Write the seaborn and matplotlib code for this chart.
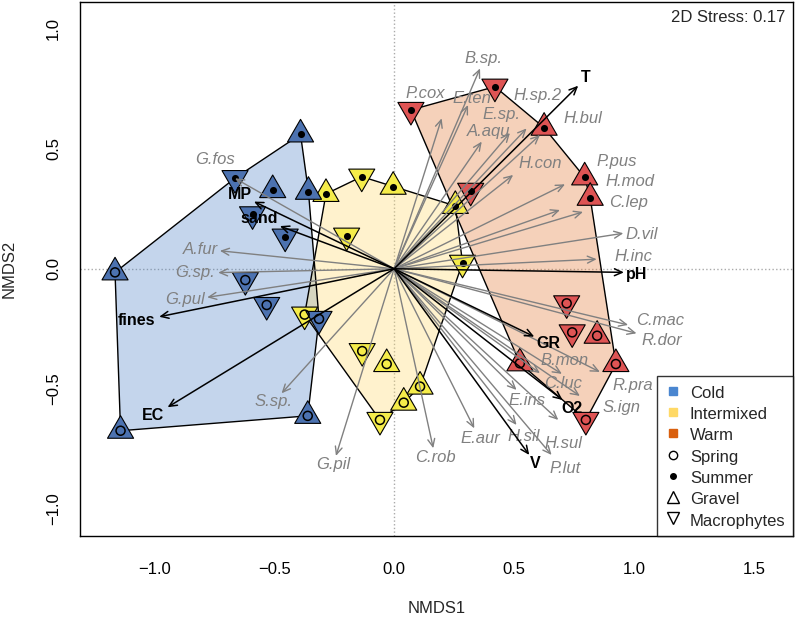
import numpy as np
import pandas as pd
import matplotlib
matplotlib.use("Agg")
import matplotlib.pyplot as plt
from matplotlib.lines import Line2D
import seaborn as sns

# site scores (NMDS1, NMDS2)
site_x = [-0.39, -0.663, -0.506, -0.357, -0.59, -0.454, -1.163, -0.62, -0.531, -0.313, -1.14, -0.36,
          -0.284, -0.135, -0.004, 0.255, -0.198, 0.285, -0.373, -0.133, -0.031, 0.108, 0.04, -0.059,
          0.07, 0.42, 0.625, 0.794, 0.817, 0.319, 0.719, 0.742, 0.846, 0.924, 0.524, 0.799]
site_y = [0.56, 0.378, 0.328, 0.321, 0.227, 0.134, -0.015, -0.047, -0.151, -0.209, -0.675, -0.613,
          0.312, 0.384, 0.342, 0.262, 0.138, 0.025, -0.191, -0.343, -0.397, -0.491, -0.558, -0.63,
          0.662, 0.759, 0.588, 0.381, 0.296, 0.325, -0.144, -0.265, -0.279, -0.397, -0.394, -0.63]
site_group = ["Cold"] * 12 + ["Intermixed"] * 12 + ["Warm"] * 12
site_season = ["Summer", "Summer", "Summer", "Summer", "Summer", "Summer", "Spring", "Spring", "Spring", "Spring", "Spring", "Spring",
               "Summer", "Summer", "Summer", "Summer", "Summer", "Summer", "Spring", "Spring", "Spring", "Spring", "Spring", "Spring",
               "Summer", "Summer", "Summer", "Summer", "Summer", "Summer", "Spring", "Spring", "Spring", "Spring", "Spring", "Spring"]
site_habitat = ["Gravel", "Macrophytes", "Gravel", "Gravel", "Macrophytes", "Macrophytes", "Gravel", "Macrophytes", "Macrophytes", "Macrophytes", "Gravel", "Gravel",
                "Gravel", "Macrophytes", "Gravel", "Gravel", "Macrophytes", "Macrophytes", "Macrophytes", "Macrophytes", "Gravel", "Gravel", "Gravel", "Macrophytes",
                "Macrophytes", "Macrophytes", "Gravel", "Gravel", "Gravel", "Macrophytes", "Macrophytes", "Macrophytes", "Gravel", "Gravel", "Gravel", "Macrophytes"]

# species vectors: arrow tip and label position
spp_names = ["B.sp.", "P.cox", "E.ten", "E.sp.", "A.aqu", "H.sp.2", "H.bul", "H.con", "P.pus", "H.mod",
             "C.lep", "D.vil", "H.inc", "C.mac", "R.dor", "B.mon", "C.luc", "R.pra", "S.ign", "E.ins",
             "H.sil", "H.sul", "P.lut", "E.aur", "C.rob", "G.pil", "S.sp.", "G.fos", "A.fur", "G.sp.", "G.pul"]
spp_x = [0.358, 0.198, 0.308, 0.4825, 0.365, 0.552, 0.6075, 0.496, 0.712, 0.691,
         0.787, 0.955, 0.844, 0.975, 1.01, 0.6075, 0.699, 0.8575, 0.774, 0.51,
         0.51, 0.684, 0.656, 0.334, 0.163, -0.2425, -0.469, -0.663, -0.726, -0.733, -0.779]
spp_y = [0.835, 0.627, 0.6825, 0.566, 0.53, 0.585, 0.5575, 0.391, 0.352, 0.245,
         0.237, 0.148, 0.04, -0.234, -0.269, -0.435, -0.438, -0.43, -0.53, -0.505,
         -0.651, -0.63, -0.776, -0.665, -0.748, -0.78, -0.519, 0.377, 0.075, -0.016, -0.119]
spp_lx = [0.371, 0.128, 0.323, 0.448, 0.392, 0.599, 0.788, 0.6075, 0.927, 0.9825,
          0.975, 1.031, 0.996, 1.1075, 1.115, 0.712, 0.705, 0.996, 0.948, 0.552,
          0.538, 0.705, 0.712, 0.3575, 0.174, -0.254, -0.504, -0.7467, -0.809, -0.83, -0.8717]
spp_ly = [0.877, 0.7325, 0.71, 0.641, 0.571, 0.724, 0.627, 0.44, 0.446, 0.363,
          0.275, 0.144, 0.05, -0.216, -0.30, -0.383, -0.48, -0.488, -0.579, -0.55,
          -0.697, -0.727, -0.831, -0.706, -0.787, -0.815, -0.554, 0.4575, 0.081, -0.016, -0.13]

# environmental vectors
env_names = ["T", "MP", "sand", "fines", "EC", "pH", "GR", "O2", "V"]
env_x = [0.767, -0.584, -0.476, -0.979, -0.944, 0.9575, 0.584, 0.702, 0.563]
env_y = [0.763, 0.28, 0.178, -0.2, -0.577, -0.015, -0.283, -0.547, -0.776]
env_lx = [0.80, -0.643, -0.562, -1.073, -1.004, 1.012, 0.642, 0.74, 0.587]
env_ly = [0.796, 0.308, 0.21, -0.2175, -0.613, -0.022, -0.313, -0.584, -0.81]

groups = ["Cold", "Intermixed", "Warm"]
point_colors = {"Cold": "#4C72B0", "Intermixed": "#F5EC4A", "Warm": "#DE5454"}
hull_colors = {"Cold": "#4A7FC4", "Intermixed": "#FFD966", "Warm": "#E0722A"}
legend_colors = {"Cold": "#4A86D0", "Intermixed": "#FFD966", "Warm": "#D95F0E"}


def hull(px, py):
    pts = sorted(set(zip(px, py)))
    def cross(o, a, b):
        return (a[0] - o[0]) * (b[1] - o[1]) - (a[1] - o[1]) * (b[0] - o[0])
    lower, upper = [], []
    for p in pts:
        while len(lower) >= 2 and cross(lower[-2], lower[-1], p) <= 0:
            lower.pop()
        lower.append(p)
    for p in reversed(pts):
        while len(upper) >= 2 and cross(upper[-2], upper[-1], p) <= 0:
            upper.pop()
        upper.append(p)
    return np.array(lower[:-1] + upper[:-1])


sites = pd.DataFrame({"NMDS1": site_x, "NMDS2": site_y, "group": site_group,
                      "season": site_season, "habitat": site_habitat})

sns.set_style("white")
plt.rcParams["font.family"] = ["Liberation Sans", "DejaVu Sans"]

fig = plt.figure(figsize=(7.96, 6.17), dpi=100)
ax = fig.add_axes([0.1005, 0.1308, 0.8957, 0.866])

ax.axhline(0, color="#AAAAAA", ls=":", lw=1, zorder=0)
ax.axvline(0, color="#AAAAAA", ls=":", lw=1, zorder=0)

for g in groups:
    sub = sites[sites["group"] == g]
    h = hull(sub["NMDS1"], sub["NMDS2"])
    ax.fill(h[:, 0], h[:, 1], color=hull_colors[g], alpha=0.32, lw=0, zorder=1)
    ax.fill(h[:, 0], h[:, 1], facecolor="none", edgecolor="black", lw=1, zorder=2)

order = ["Warm", "Intermixed", "Cold"]
for g in order:
    sub = sites[sites["group"] == g]
    sns.scatterplot(data=sub, x="NMDS1", y="NMDS2", style="habitat",
                    markers={"Gravel": (3, 0, 0), "Macrophytes": (3, 0, 180)},
                    color=point_colors[g], edgecolor="black", linewidth=0.8,
                    s=470, legend=False, ax=ax, zorder=3)
    spr = sub[sub["season"] == "Spring"]
    ax.scatter(spr["NMDS1"], spr["NMDS2"], s=42, facecolor="none", edgecolor="black", lw=1.1, zorder=4)
    smr = sub[sub["season"] == "Summer"]
    ax.scatter(smr["NMDS1"], smr["NMDS2"], s=26, color="black", lw=0, zorder=4)

for name, x, y, lx, ly in zip(spp_names, spp_x, spp_y, spp_lx, spp_ly):
    ax.annotate("", xy=(x, y), xytext=(0, 0),
                arrowprops=dict(arrowstyle="->,head_length=0.55,head_width=0.25", color="#808080",
                                lw=1, shrinkA=0, shrinkB=0), zorder=5)
    ax.text(lx, ly, name, color="#808080", style="italic", fontsize=12,
            ha="center", va="center", zorder=6)

for name, x, y, lx, ly in zip(env_names, env_x, env_y, env_lx, env_ly):
    ax.annotate("", xy=(x, y), xytext=(0, 0),
                arrowprops=dict(arrowstyle="->,head_length=0.55,head_width=0.25", color="black",
                                lw=1.1, shrinkA=0, shrinkB=0), zorder=7)
    ax.text(lx, ly, name, color="black", fontweight="bold", fontsize=11.5,
            ha="center", va="center", zorder=8)

ax.set_xlim(-1.309, 1.662)
ax.set_ylim(-1.115, 1.112)
ax.set_xticks([-1.0, -0.5, 0.0, 0.5, 1.0, 1.5])
ax.set_yticks([-1.0, -0.5, 0.0, 0.5, 1.0])
ax.set_xticklabels(["\u22121.0", "\u22120.5", "0.0", "0.5", "1.0", "1.5"])
ax.set_yticklabels(["\u22121.0", "\u22120.5", "0.0", "0.5", "1.0"], rotation=90, va="center")
ax.tick_params(axis="both", direction="out", length=7.5, width=1, color="black", labelsize=12, labelcolor="black")
ax.tick_params(axis="x", pad=11)
ax.tick_params(axis="y", pad=6)
ax.set_xlabel("NMDS1", fontsize=12, labelpad=17)
ax.set_ylabel("NMDS2", fontsize=12, labelpad=21)
for sp in ax.spines.values():
    sp.set_color("black")
    sp.set_linewidth(1)

ax.text(0.99, 0.985, "2D Stress: 0.17", transform=ax.transAxes, ha="right", va="top", fontsize=12)

handles = [Line2D([], [], ls="", marker="s", markersize=6, markerfacecolor=legend_colors[g],
                  markeredgecolor=legend_colors[g]) for g in groups]
handles += [Line2D([], [], ls="", marker="o", markersize=6, markerfacecolor="none", markeredgecolor="black"),
            Line2D([], [], ls="", marker="o", markersize=4, markerfacecolor="black", markeredgecolor="black"),
            Line2D([], [], ls="", marker="^", markersize=8, markerfacecolor="none", markeredgecolor="black"),
            Line2D([], [], ls="", marker="v", markersize=8, markerfacecolor="none", markeredgecolor="black")]
labels = groups + ["Spring", "Summer", "Gravel", "Macrophytes"]
leg = ax.legend(handles, labels, loc="lower right", fontsize=12, frameon=True, fancybox=False,
                edgecolor="black", borderaxespad=0, handlelength=1.0, handletextpad=0.5,
                handleheight=1.25, labelspacing=0.22, borderpad=0.45)
leg.get_frame().set_linewidth(1)
leg.set_zorder(10)

fig.savefig("out.png", dpi=100)
